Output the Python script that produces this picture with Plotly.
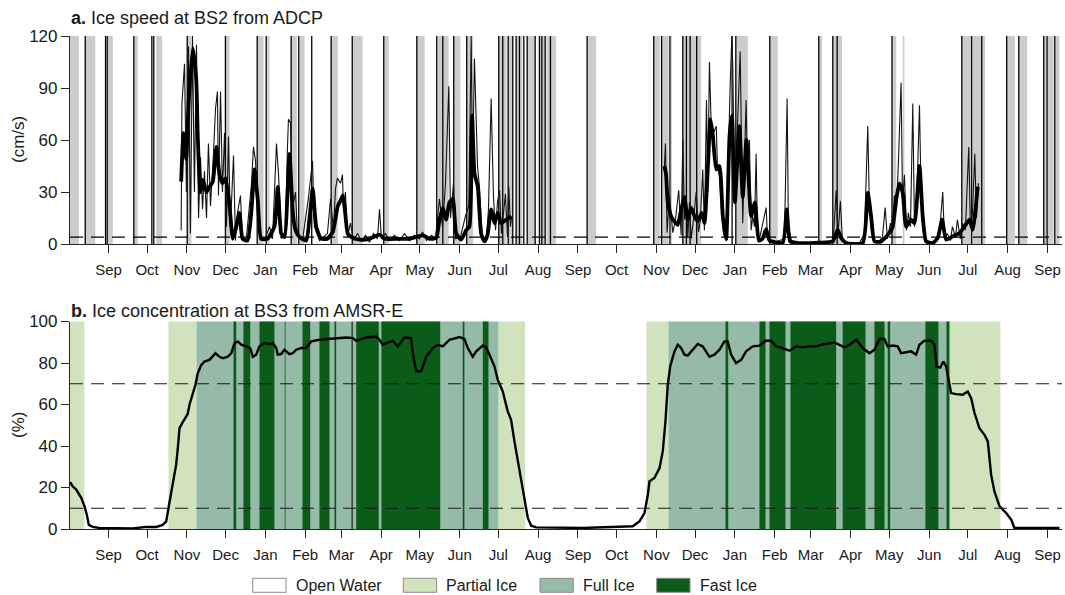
import pandas as pd
import plotly.graph_objects as go

# ---------------- data (time = days since 2008-08-01) ----------------
BASE = pd.Timestamp("2008-08-01")
X_START_DAY, X_END_DAY = 1.07, 772.3

# Panel a: ice speed (cm/s), raw (thin) and smoothed (thick), two seasons
speed_thin_days_1 = [87.5, 88.1, 90.1, 91.6, 93.2, 94.7, 96.3, 97.8, 99.4, 101.0, 102.5, 104.1, 105.6, 107.2,
                     108.7, 110.3, 112.6, 114.2, 115.7, 116.5, 118.1, 119.6, 121.2, 122.7, 124.3, 125.8, 128.2,
                     129.7, 131.3, 133.6, 135.2, 138.3, 142.2, 143.7, 145.3, 146.8, 148.4, 152.3, 156.2, 158.5,
                     161.6, 163.2, 165.5, 168.6, 170.1, 170.9, 172.5, 174.0, 176.4, 177.9, 181.8, 186.5, 189.6,
                     191.1, 195.0, 201.2, 203.6, 205.9, 207.5, 209.0, 211.4, 212.9, 213.7, 215.2, 216.8, 219.1,
                     221.5, 224.6, 227.7, 230.8, 233.9, 237.0, 240.1, 241.7, 243.2, 246.3, 249.4, 253.3, 257.2,
                     261.1, 265.0, 268.9, 272.8, 275.1, 278.2, 282.1, 285.2, 288.3, 290.7, 293.0, 295.6, 296.9,
                     299.2, 300.8, 304.6, 308.5, 311.1, 313.0, 314.0, 315.5, 317.9, 319.4, 321.7, 324.9, 326.4,
                     328.5, 330.3, 331.9, 333.4, 335.0, 336.5, 338.1, 339.6, 341.2, 342.2, 343.5, 344.5]
speed_thin_vals_1 = [8, 81, 104, 30, 114, 6, 120, 30, 115, 15, 50, 20, 42, 15,
                     58, 22, 52, 78, 88, 28, 88, 30, 64, 10, 62, 10, 51,
                     2, 18, 28, 2, 4, 35, 56, 48, 20, 5, 2, 10, 3,
                     58, 40, 3, 8, 55, 72, 70, 20, 30, 5, 2, 27, 48,
                     10, 2, 6, 26, 8, 32, 38, 35, 40, 19, 30, 4, 12,
                     2, 6, 2, 5, 1, 6, 3, 20, 3, 6, 2, 5, 2,
                     6, 2, 5, 3, 7, 2, 5, 3, 26, 10, 35, 91, 15,
                     35, 3, 4, 16, 22, 120, 40, 107, 45, 33, 2, 4, 20,
                     84, 27, 8, 24, 31, 6, 20, 29, 4, 33, 10, 16]
speed_thin_days_2 = [463.2, 464.0, 465.3, 467.1, 469.7, 471.8, 474.3, 476.2, 477.5, 478.8, 480.1, 481.4, 482.7,
                     484.0, 485.8, 487.9, 489.7, 491.2, 493.0, 494.3, 495.9, 496.9, 498.2, 499.8, 500.8, 503.5,
                     504.4, 506.0, 507.5, 509.1, 510.7, 512.2, 514.3, 515.6, 516.3, 517.7, 520.0, 522.1, 523.1,
                     524.1, 526.7, 527.8, 529.3, 530.6, 531.9, 533.2, 534.5, 535.5, 537.1, 539.7, 542.3, 543.3,
                     544.9, 548.7, 552.6, 556.5, 558.6, 559.6, 561.9, 568.2, 579.9, 591.5, 594.6, 596.7, 598.1,
                     600.0, 601.6, 607.0, 614.8, 618.7, 621.3, 622.6, 624.2, 626.5, 630.4, 632.7, 634.8, 636.6,
                     638.9, 640.5, 642.0, 643.6, 645.1, 647.2, 648.3, 649.8, 651.4, 652.9, 654.5, 656.3, 657.6,
                     659.2, 661.5, 662.7, 664.0, 665.4, 669.2, 673.1, 677.0, 679.6, 680.9, 683.2, 685.6, 687.1,
                     689.5, 691.0, 693.3, 694.9, 697.2, 699.8, 701.1, 702.7, 704.5, 705.8, 707.3]
speed_thin_vals_2 = [45, 58, 6.5, 28, 6.5, 14, 31, 5, 60, 14, 28, 4, 24,
                     3, 14, 30, 7, 14, 43, 8, 83, 30, 105, 62, 63, 68,
                     45, 39, 20, 6.5, 2.7, 30, 91, 120, 104, 33, 68, 111, 60,
                     12, 83, 40, 60, 8, 16, 10, 52, 5, 3, 12, 21, 4,
                     2, 1, 2, 3, 84, 10, 2, 0.5, 0.5, 1, 3, 31, 5,
                     25, 2, 0.5, 0.5, 6, 68, 20, 8, 1, 2, 4, 21, 3,
                     12, 8, 28, 20, 47, 93, 25, 40, 8, 18, 10, 81, 10,
                     20, 80, 30, 10, 2, 0.5, 1, 6, 30, 3, 6, 2, 10,
                     4, 14, 3, 12, 8, 56, 10, 18, 52, 15, 35]

speed_thick_days_1 = [87.5, 89.3, 91.4, 93.4, 96.5, 99.2, 100.4, 102.5, 104.3, 107.2, 109.5, 112.1, 114.9, 117.3,
                      119.6, 122.0, 125.1, 127.6, 129.7, 132.8, 135.2, 139.1, 142.2, 144.5, 147.1, 149.7, 154.6,
                      160.0, 162.6, 165.3, 167.8, 171.7, 174.3, 176.4, 179.5, 184.7, 187.3, 189.8, 192.5, 196.3,
                      201.2, 205.4, 209.3, 211.4, 213.1, 214.5, 217.0, 219.9, 226.1, 233.9, 241.7, 245.6, 257.2,
                      265.0, 275.3, 280.5, 285.8, 288.3, 290.9, 293.5, 296.1, 298.7, 301.3, 305.2, 309.1, 311.6,
                      313.7, 315.5, 318.1, 320.7, 323.3, 325.6, 328.5, 331.1, 333.6, 336.3, 340.2, 344.0]
speed_thick_vals_1 = [36, 64, 49, 83, 113, 95, 62, 30, 37, 30, 33, 36, 56, 40,
                      35, 38, 22, 3, 8, 18, 3, 2, 20, 43, 25, 3, 3,
                      10, 33, 6, 4, 52, 18, 8, 4, 2, 15, 32, 10, 3,
                      3, 7, 22, 25, 28, 22, 6, 4, 2.5, 3, 5.4, 3, 3,
                      3, 5, 3, 3.5, 14, 21, 14, 24, 26, 6, 2.5, 8, 10,
                      74, 41, 33, 6, 1.5, 5, 20, 12, 18, 12, 14, 16]
speed_thick_days_2 = [463.2, 464.5, 465.8, 468.4, 471.0, 473.6, 476.2, 478.8, 481.3, 484.0, 486.6, 489.1, 492.2,
                      494.3, 496.9, 499.0, 500.8, 503.5, 506.0, 508.6, 511.2, 513.8, 515.6, 518.0, 521.5, 524.1,
                      527.0, 530.6, 533.6, 536.6, 539.4, 542.3, 544.9, 555.2, 558.3, 561.0, 568.2, 583.7, 594.1,
                      597.9, 600.6, 604.5, 617.4, 621.3, 623.9, 626.5, 631.7, 638.1, 640.7, 643.4, 645.9, 648.5,
                      651.1, 655.0, 657.6, 661.5, 664.0, 666.7, 671.8, 675.7, 679.1, 682.2, 687.4, 692.6, 696.4,
                      700.4, 702.9, 705.6, 706.8]
speed_thick_vals_2 = [45, 40, 24, 16, 13, 11, 20, 27, 14, 21, 16, 13, 18,
                      12, 43, 72, 63, 43, 45, 16, 2.7, 62, 74, 24, 68, 27,
                      60, 16, 24, 2, 3, 8.5, 2, 0.8, 20, 1.5, 0.5, 0.8, 1.5,
                      8.3, 3.5, 0.6, 0.6, 29.5, 16, 1.5, 1.5, 6.4, 10, 25.6, 35, 29.5,
                      10, 14, 12, 45, 16, 1.5, 0.6, 3.5, 14, 2.5, 4.4, 6.4, 10,
                      14, 8.3, 24, 33]
speed_threshold = 4

# Panel a: shaded periods and event markers (days)
gray_start = [0.5, 12.9, 30.5, 50.7, 68.1, 92.4, 121.9, 146.6, 154.4, 173.0, 179.5, 204.1, 220.9, 245.3,
              270.8, 287.0, 299.4, 309.6, 334.4, 341.7, 347.9, 356.5, 366.0, 371.5, 403.1, 454.9, 461.0,
              468.2, 477.5, 518.9, 545.1, 583.2, 594.1, 640.1, 648.5, 694.4, 702.9, 709.9, 729.3, 738.7,
              758.1, 761.2, 767.2]
gray_end = [8.0, 20.7, 34.4, 53.8, 72.8, 95.5, 125.1, 151.5, 156.2, 177.5, 183.4, 209.3, 228.5, 248.9,
            276.8, 295.5, 304.6, 314.5, 340.4, 345.1, 352.8, 362.7, 370.5, 379.0, 410.1, 459.6, 466.5,
            469.0, 491.8, 528.0, 551.3, 585.8, 601.2, 643.4, 649.8, 702.1, 709.9, 712.5, 735.7, 745.2,
            760.2, 765.7, 770.3]
event_days = [12.9, 28.7, 30.0, 50.7, 64.7, 66.2, 92.2, 121.9, 146.6, 153.6, 173.0, 178.9, 189.0, 204.1,
              220.5, 245.0, 270.7, 286.2, 290.9, 299.4, 309.5, 334.4, 337.5, 341.7, 345.3, 347.9, 350.5,
              353.9, 356.5, 362.7, 366.0, 367.9, 370.5, 374.6, 403.1, 454.9, 461.0, 467.5, 477.5, 480.3,
              483.2, 488.3, 515.8, 518.7, 545.1, 583.2, 594.1, 597.5, 640.1, 694.4, 702.1, 709.9, 729.3,
              738.7, 758.1, 760.7, 766.7]

# Panel b: ice concentration (%)
conc_days = [1.2, 3.2, 5.9, 9.8, 12.3, 14.1, 15.7, 18.8, 24.0, 49.9, 60.3, 68.1, 73.2, 75.9, 77.6, 79.7, 81.5,
             83.6, 84.9, 86.2, 88.3, 90.9, 92.6, 94.0, 96.5, 98.6, 100.4, 103.1, 105.6, 109.5, 114.2, 117.3,
             119.9, 123.7, 126.4, 129.0, 131.5, 134.2, 138.0, 141.2, 143.2, 145.8, 148.4, 152.3, 156.2, 158.7,
             161.4, 162.6, 165.2, 167.8, 171.7, 174.3, 176.9, 180.8, 184.7, 188.6, 195.0, 205.4, 215.8, 220.9,
             223.6, 231.3, 239.1, 241.7, 244.2, 246.9, 252.0, 255.9, 258.5, 261.1, 266.3, 267.6, 270.2, 274.1,
             278.0, 283.1, 287.0, 290.9, 296.1, 303.9, 307.7, 310.3, 314.2, 316.9, 322.0, 324.6, 327.2, 331.1,
             333.6, 337.5, 341.4, 344.0, 346.6, 349.2, 351.8, 354.4, 357.0, 359.6, 363.5, 399.7, 425.7, 438.6,
             443.8, 447.7, 450.3, 451.6, 455.4, 459.4, 461.9, 464.0, 465.8, 467.7, 471.0, 473.6, 476.2, 478.8,
             481.3, 485.2, 489.1, 493.0, 498.2, 502.1, 506.0, 509.9, 512.4, 515.1, 518.9, 522.9, 526.7, 531.9,
             537.1, 542.3, 546.2, 550.1, 555.2, 560.4, 565.6, 570.7, 575.9, 581.2, 586.3, 595.4, 599.3, 603.2,
             607.1, 612.3, 617.4, 622.6, 626.5, 630.4, 634.2, 636.8, 640.7, 644.6, 647.2, 651.1, 655.0, 658.9,
             661.5, 665.4, 670.6, 673.1, 674.9, 677.6, 680.1, 682.2, 686.1, 690.0, 695.1, 699.0, 701.7, 704.3,
             708.1, 712.0, 714.6, 717.2, 719.8, 723.7, 728.9, 732.8, 735.3, 749.3, 770.3]
conc_vals = [22.6, 20.5, 19, 15, 11, 7, 2, 1, 0.5, 0.3, 1, 1, 2, 3.7, 10, 18, 25,
             31, 39, 48.6, 51, 53.5, 55.5, 60, 64.7, 69.5, 75, 79, 80.7, 81.5, 84.7, 83,
             82.3, 83, 84.7, 89.5, 90.4, 88.8, 88, 87.2, 83, 84, 88, 89.6, 89, 89.6,
             87.2, 84, 84.3, 86.4, 84.3, 84.7, 86.4, 87.2, 87.2, 90.4, 91.2, 91.6, 92.3, 92,
             90.7, 92.3, 92.8, 91.2, 88.8, 89.6, 90.7, 88, 90.4, 92.3, 92, 84.7, 76, 76,
             83, 87.2, 88.8, 88, 91.2, 92.5, 91.6, 87.2, 83, 85.6, 88.4, 87.5, 84, 78.3,
             72, 66.3, 56.7, 52.6, 42.2, 32.6, 24.6, 13.3, 5.3, 1.6, 0.8, 0.5, 1, 1.3,
             3.7, 7.7, 16.5, 23, 24.6, 29.4, 37.4, 51.8, 69.5, 78.3, 85.6, 88.8, 87.2, 84,
             83.6, 86.4, 89.2, 88, 83, 84, 86.4, 90.4, 90.4, 84, 80, 81.5, 85.6, 88,
             88.4, 90.8, 90.7, 88, 87.2, 85.9, 88, 87.6, 88, 88, 89, 89.9, 88.8, 87.5,
             88.8, 91.2, 87.2, 84.7, 86.4, 91.6, 91.6, 88, 88.4, 88, 84.7, 85.2, 85.6, 84,
             88.8, 90.8, 90.7, 88.8, 78.3, 77.8, 80.7, 78.3, 65.5, 65, 64.7, 66.3, 63, 55.9,
             48.6, 45.4, 42.2, 26.2, 18, 11, 7.7, 4.5, 0.5, 0.5, 0.5]
conc_thresholds = [10, 70]

# Panel b: ice-state periods (days)
partial_start = [0.0, 77.6, 334.2, 449.2, 684.8]
partial_end = [12.3, 99.4, 354.9, 466.3, 724.4]
full_start = [99.4, 466.3]
full_end = [334.2, 684.8]
fast_start = [128.2, 135.9, 148.4, 168.0, 181.8, 195.0, 206.7, 223.6, 243.2, 306.4, 322.0,
              510.7, 537.1, 544.9, 561.2, 601.8, 626.5, 636.8, 666.1, 682.5]
fast_end = [130.3, 141.2, 160.0, 168.6, 187.8, 202.8, 208.0, 241.1, 288.9, 307.7, 326.4,
            512.8, 541.8, 557.3, 596.7, 619.5, 634.3, 638.7, 676.2, 684.8]
conc_event_days = [220.4]

legend_labels = ["Open Water", "Partial Ice", "Full Ice", "Fast Ice"]
month_ticks = pd.date_range("2008-09-01", "2010-09-01", freq="MS")
month_labels = [d.strftime("%b") for d in month_ticks]
speed_ticks = [0, 30, 60, 90, 120]
conc_ticks = [0, 20, 40, 60, 80, 100]

# ---------------- styles ----------------
C_PARTIAL, C_FULL, C_FAST = "#d1e3bd", "#95bba8", "#0b5b19"
C_GRAY = "#cccccc"
AX = "#262626"
TXT = "#1a1a1a"
FONT = "Liberation Sans, Arial, Helvetica, sans-serif"


def dt(d):
    return (BASE + pd.Timedelta(days=float(d))).strftime("%Y-%m-%d %H:%M:%S")


def dts(days):
    return [dt(d) for d in days]


fig = go.Figure()

# speed traces
thin_x = dts(speed_thin_days_1) + [None] + dts(speed_thin_days_2)
thin_y = speed_thin_vals_1 + [None] + speed_thin_vals_2
thick_x = dts(speed_thick_days_1) + [None] + dts(speed_thick_days_2)
thick_y = speed_thick_vals_1 + [None] + speed_thick_vals_2
fig.add_trace(go.Scatter(x=thin_x, y=thin_y, mode="lines", line=dict(color="#141414", width=1.1),
                         connectgaps=False, xaxis="x", yaxis="y", hoverinfo="skip"))
fig.add_trace(go.Scatter(x=thick_x, y=thick_y, mode="lines",
                         line=dict(color="black", width=3.8, shape="spline", smoothing=0.5),
                         connectgaps=False, xaxis="x", yaxis="y", hoverinfo="skip"))
# concentration trace
fig.add_trace(go.Scatter(x=dts(conc_days), y=conc_vals, mode="lines", line=dict(color="black", width=2.4),
                         xaxis="x2", yaxis="y2", hoverinfo="skip"))

shapes = []
for s, e in zip(gray_start, gray_end):
    shapes.append(dict(type="rect", xref="x", yref="y domain", x0=dt(s), x1=dt(e), y0=0, y1=1,
                       fillcolor=C_GRAY, line=dict(width=0), layer="below"))
for d in event_days:
    shapes.append(dict(type="line", xref="x", yref="y domain", x0=dt(d), x1=dt(d), y0=0, y1=1,
                       line=dict(color="black", width=1.3), layer="below"))
for starts, ends, col in [(partial_start, partial_end, C_PARTIAL), (full_start, full_end, C_FULL),
                          (fast_start, fast_end, C_FAST)]:
    for s, e in zip(starts, ends):
        shapes.append(dict(type="rect", xref="x2", yref="y2 domain", x0=dt(s), x1=dt(e), y0=0, y1=1,
                           fillcolor=col, line=dict(width=0), layer="below"))
for d in conc_event_days:
    shapes.append(dict(type="line", xref="x2", yref="y2 domain", x0=dt(d), x1=dt(d), y0=0, y1=1,
                       line=dict(color="black", width=1), layer="below"))
# thresholds
shapes.append(dict(type="line", xref="x domain", yref="y", x0=0, x1=1, y0=speed_threshold, y1=speed_threshold,
                   line=dict(color="black", width=1.2, dash="13px,8px")))
for t in conc_thresholds:
    shapes.append(dict(type="line", xref="x2 domain", yref="y2", x0=0, x1=1, y0=t, y1=t,
                       line=dict(color=TXT, width=1.2, dash="13px,8px")))

# manual legend (pixel layout -> paper coords)
PL, PW, PT, PH = 70, 992, 36, 493


def px(x):
    return (x - PL) / PW


def py(y):
    return (PT + PH - y) / PH


legend_colors = ["white", C_PARTIAL, C_FULL, C_FAST]
box_left = [252.7, 403.3, 540.0, 656.7]
annotations = []
for lab, col, bl in zip(legend_labels, legend_colors, box_left):
    shapes.append(dict(type="rect", xref="paper", yref="paper", x0=px(bl), x1=px(bl + 33.3), y0=py(592.3), y1=py(578.3),
                       fillcolor=col, line=dict(color="#8c8c8c", width=1)))
    annotations.append(dict(xref="paper", yref="paper", x=px(bl + 41), y=py(585.5), text=lab, showarrow=False,
                            xanchor="left", yanchor="middle", font=dict(size=16, color=TXT)))

annotations += [
    dict(xref="paper", yref="paper", x=px(69), y=py(18), text="<b>a.</b> Ice speed at BS2 from ADCP",
         showarrow=False, xanchor="left", yanchor="middle", font=dict(size=18, color=TXT)),
    dict(xref="paper", yref="paper", x=px(69), y=py(311), text="<b>b.</b> Ice concentration at BS3 from AMSR-E",
         showarrow=False, xanchor="left", yanchor="middle", font=dict(size=18, color=TXT)),
    dict(xref="paper", yref="paper", x=px(18), y=py(140), text="(cm/s)", textangle=-90,
         showarrow=False, xanchor="center", yanchor="middle", font=dict(size=17, color=TXT)),
    dict(xref="paper", yref="paper", x=px(18), y=py(425), text="(%)", textangle=-90,
         showarrow=False, xanchor="center", yanchor="middle", font=dict(size=17, color=TXT)),
]

xrange = [dt(X_START_DAY), dt(X_END_DAY)]
xcommon = dict(type="date", range=xrange, tickmode="array", tickvals=[d.strftime("%Y-%m-%d") for d in month_ticks],
               ticktext=month_labels, ticks="outside", ticklen=8, tickwidth=1.2, tickcolor=AX,
               showline=True, linecolor=AX, linewidth=1.2, showgrid=False, zeroline=False,
               ticklabelstandoff=4, tickfont=dict(size=15, color=TXT))
ycommon = dict(ticks="outside", ticklen=8, tickwidth=1.2, tickcolor=AX, showline=True, linecolor=AX, linewidth=1.2,
               showgrid=False, zeroline=False, tickfont=dict(size=17, color=TXT), tickmode="array")

fig.update_layout(
    width=1065, height=595,
    margin=dict(l=70, r=3, t=36, b=66),
    plot_bgcolor="white", paper_bgcolor="white",
    showlegend=False,
    font=dict(family=FONT, color=TXT),
    xaxis=dict(domain=[0, 1], anchor="y", **xcommon),
    yaxis=dict(domain=[(529 - 244) / 493, 1], anchor="x", range=[0, 120], tickvals=speed_ticks, **ycommon),
    xaxis2=dict(domain=[0, 1], anchor="y2", **xcommon),
    yaxis2=dict(domain=[0, (529 - 321.5) / 493], anchor="x2", range=[0, 100], tickvals=conc_ticks, **ycommon),
    shapes=shapes,
    annotations=annotations,
)

fig.write_html("out.html")
